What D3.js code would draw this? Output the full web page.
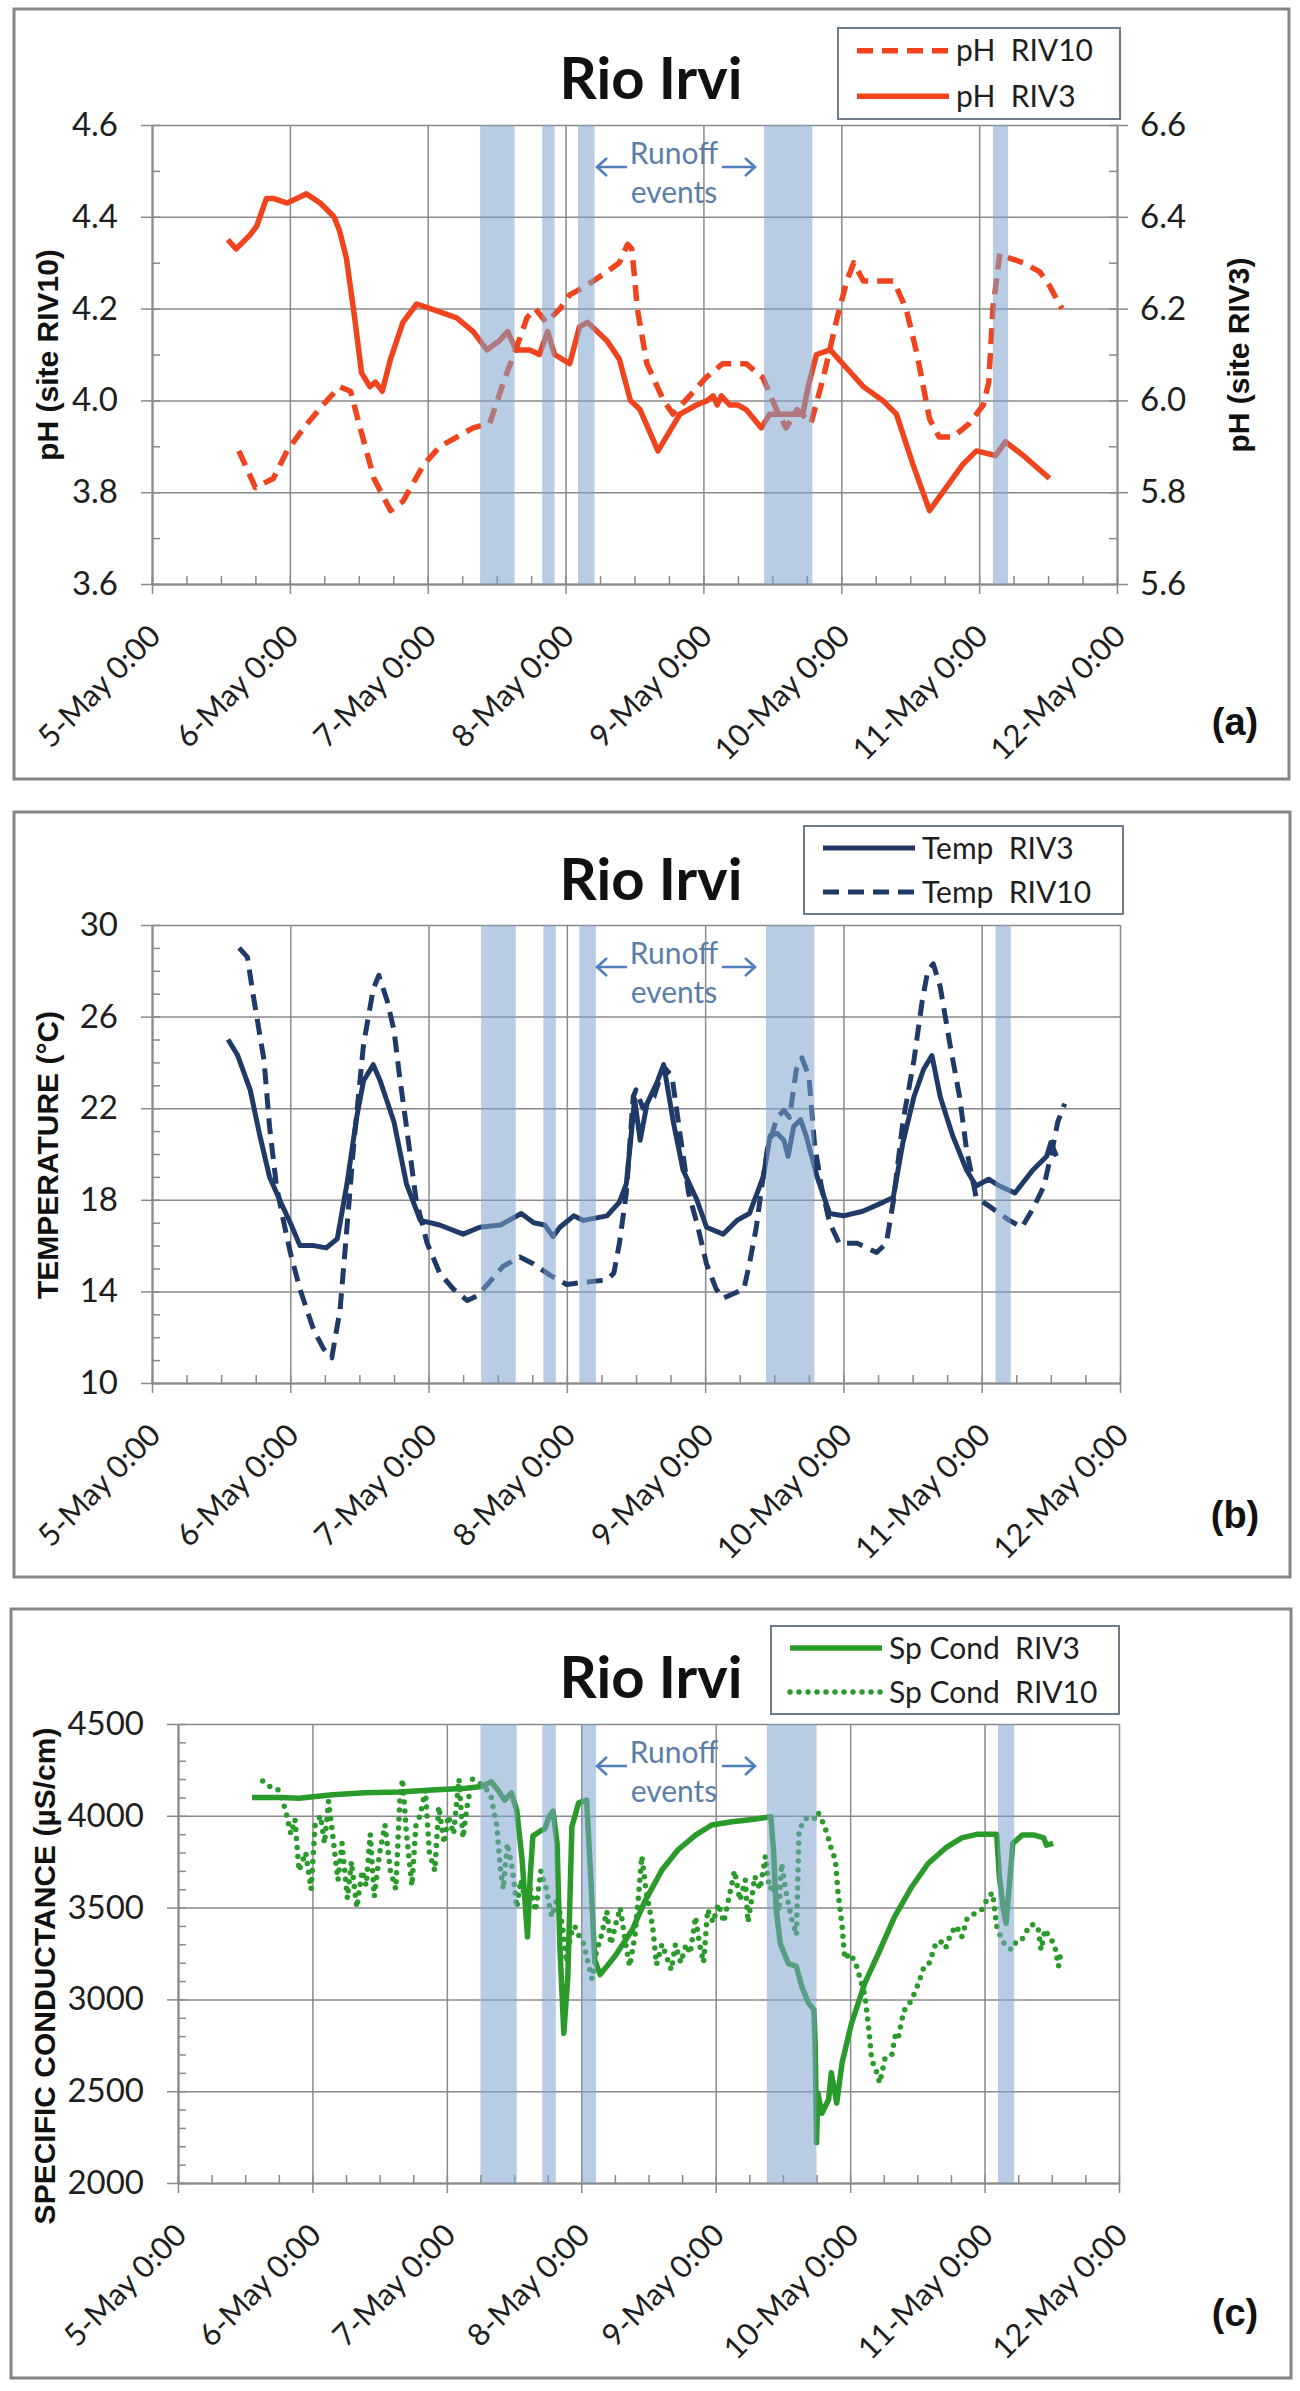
<!DOCTYPE html>
<html>
<head>
<meta charset="utf-8">
<script src="https://cdn.jsdelivr.net/npm/d3@7"></script>
<style>
  body { margin: 0; background: #fff; }
  text { font-family: Lato, "Open Sans", sans-serif; }
</style>
</head>
<body>
<svg id="fig" width="1300" height="2391"></svg>
<script>
// days counted from 5-May 0:00
var dayTicks = [0, 1, 2, 3, 4, 5, 6, 7];
var dayLabels = ['5-May 0:00', '6-May 0:00', '7-May 0:00', '8-May 0:00',
  '9-May 0:00', '10-May 0:00', '11-May 0:00', '12-May 0:00'];

// runoff event bands [start, end] in days
var bandsAB = [[2.38, 2.63], [2.83, 2.92], [3.09, 3.21], [4.44, 4.79], [6.10, 6.21]];
var bandsC = [[2.25, 2.52], [2.71, 2.81], [3.00, 3.11], [4.38, 4.75], [6.10, 6.22]];

var phTicks = [3.6, 3.8, 4.0, 4.2, 4.4, 4.6];
var phRightTicks = [5.6, 5.8, 6.0, 6.2, 6.4, 6.6];
var tempTicks = [10, 14, 18, 22, 26, 30];
var condTicks = [2000, 2500, 3000, 3500, 4000, 4500];

var phRIV10 = [[0.63,3.89],[0.75,3.81],[0.88,3.83],[0.98,3.89],[1.10,3.94],[1.24,3.99],[1.36,4.03],
  [1.44,4.02],[1.51,3.94],[1.61,3.83],[1.73,3.76],[1.82,3.78],[1.97,3.86],[2.09,3.90],[2.33,3.94],
  [2.45,3.95],[2.55,4.04],[2.65,4.12],[2.72,4.18],[2.78,4.20],[2.86,4.17],[2.96,4.20],[3.03,4.23],
  [3.15,4.25],[3.30,4.28],[3.39,4.30],[3.45,4.34],[3.48,4.33],[3.50,4.27],[3.52,4.20],[3.59,4.08],
  [3.71,4.00],[3.78,3.97],[3.90,4.01],[4.02,4.05],[4.14,4.08],[4.31,4.08],[4.43,4.05],[4.53,3.98],
  [4.60,3.94],[4.68,3.98],[4.78,3.95],[4.87,4.05],[4.97,4.18],[5.04,4.26],[5.09,4.30],[5.16,4.26],
  [5.26,4.26],[5.38,4.26],[5.47,4.20],[5.55,4.10],[5.64,3.96],[5.71,3.92],[5.81,3.92],[5.93,3.95],
  [6.03,3.99],[6.07,4.04],[6.10,4.20],[6.15,4.32],[6.22,4.31],[6.32,4.30],[6.44,4.28],[6.51,4.25],
  [6.60,4.20]];

var phRIV3 = [[0.55,6.35],[0.61,6.33],[0.71,6.36],[0.76,6.38],[0.83,6.44],[0.88,6.44],[0.98,6.43],
  [1.05,6.44],[1.12,6.45],[1.22,6.43],[1.32,6.40],[1.36,6.37],[1.41,6.31],[1.47,6.18],[1.52,6.06],
  [1.58,6.03],[1.62,6.04],[1.67,6.02],[1.73,6.09],[1.82,6.17],[1.92,6.21],[2.02,6.20],[2.21,6.18],
  [2.33,6.15],[2.43,6.11],[2.52,6.13],[2.58,6.15],[2.64,6.11],[2.74,6.11],[2.81,6.10],[2.87,6.15],
  [2.92,6.10],[3.03,6.08],[3.10,6.16],[3.16,6.17],[3.30,6.13],[3.39,6.09],[3.47,6.00],[3.54,5.98],
  [3.67,5.89],[3.73,5.92],[3.83,5.97],[3.95,5.99],[4.03,6.00],[4.07,6.01],[4.10,5.99],[4.13,6.01],
  [4.19,5.99],[4.25,5.99],[4.31,5.98],[4.42,5.94],[4.48,5.97],[4.60,5.97],[4.72,5.97],[4.76,6.03],
  [4.82,6.10],[4.92,6.11],[5.04,6.07],[5.16,6.03],[5.30,6.00],[5.40,5.97],[5.52,5.86],[5.64,5.76],
  [5.76,5.81],[5.88,5.86],[5.98,5.89],[6.12,5.88],[6.19,5.91],[6.32,5.88],[6.51,5.83]];

var tempRIV3 = [[0.55,25.0],[0.62,24.3],[0.71,22.8],[0.78,20.8],[0.85,19.0],[0.93,17.9],[1.00,17.0],
  [1.07,16.0],[1.17,16.0],[1.26,15.9],[1.34,16.3],[1.41,18.7],[1.48,21.6],[1.53,23.2],[1.60,23.9],
  [1.65,23.2],[1.75,21.4],[1.84,18.7],[1.94,17.1],[2.08,16.9],[2.25,16.5],[2.37,16.8],[2.52,16.9],
  [2.67,17.4],[2.76,17.0],[2.84,16.9],[2.90,16.4],[2.95,16.8],[3.05,17.3],[3.12,17.1],[3.29,17.3],
  [3.38,17.9],[3.43,18.7],[3.46,20.5],[3.49,22.4],[3.53,20.6],[3.58,22.2],[3.65,23.1],[3.70,23.9],
  [3.77,21.4],[3.84,19.3],[3.94,18.0],[4.01,16.8],[4.13,16.5],[4.23,17.1],[4.32,17.4],[4.42,19.0],
  [4.47,20.8],[4.52,20.9],[4.57,20.6],[4.60,19.9],[4.64,21.2],[4.69,21.5],[4.73,20.8],[4.81,19.0],
  [4.90,17.4],[5.00,17.3],[5.14,17.5],[5.29,17.9],[5.36,18.1],[5.43,20.5],[5.51,22.5],[5.58,23.7],
  [5.64,24.3],[5.70,22.5],[5.79,20.8],[5.89,19.3],[5.96,18.6],[6.05,18.9],[6.13,18.6],[6.24,18.3],
  [6.37,19.3],[6.47,19.9],[6.50,20.5],[6.54,19.9]];

var tempRIV10 = [[0.63,29.0],[0.69,28.6],[0.73,27.0],[0.81,24.1],[0.85,21.2],[0.90,18.6],[0.95,17.1],
  [1.00,15.7],[1.07,14.1],[1.17,12.3],[1.24,11.5],[1.30,11.1],[1.36,13.2],[1.41,16.8],[1.46,20.5],
  [1.53,24.8],[1.60,27.2],[1.64,27.8],[1.70,26.7],[1.75,25.4],[1.79,23.4],[1.84,21.2],[1.91,18.0],
  [1.99,16.1],[2.08,14.8],[2.18,14.1],[2.28,13.6],[2.35,13.8],[2.44,14.4],[2.54,15.1],[2.66,15.5],
  [2.76,15.2],[2.88,14.7],[3.00,14.3],[3.12,14.4],[3.29,14.5],[3.34,14.8],[3.38,16.1],[3.43,18.3],
  [3.48,22.5],[3.50,22.8],[3.55,22.0],[3.63,22.5],[3.70,23.8],[3.76,23.4],[3.82,20.8],[3.88,18.3],
  [3.94,17.0],[4.01,15.2],[4.08,14.1],[4.13,13.7],[4.28,14.1],[4.32,15.2],[4.37,16.8],[4.41,18.6],
  [4.45,20.2],[4.52,21.6],[4.57,21.9],[4.61,21.6],[4.66,23.7],[4.70,24.2],[4.75,23.4],[4.79,20.5],
  [4.84,18.6],[4.90,17.0],[4.97,16.1],[5.10,16.1],[5.24,15.7],[5.31,16.1],[5.36,17.9],[5.43,21.4],
  [5.51,24.1],[5.57,26.7],[5.61,28.0],[5.65,28.3],[5.70,27.3],[5.77,24.8],[5.84,22.5],[5.89,20.2],
  [5.96,18.1],[6.06,17.7],[6.20,17.1],[6.29,16.8],[6.37,17.6],[6.45,18.6],[6.51,20.2],[6.55,21.4],
  [6.60,22.2]];

var condRIV3 = [[0.55,4100],[0.77,4100],[0.90,4095],[1.15,4115],[1.39,4125],[1.64,4130],[1.89,4140],
  [2.14,4150],[2.26,4160],[2.33,4185],[2.38,4140],[2.43,4085],[2.48,4125],[2.52,4030],[2.56,3760],
  [2.60,3340],[2.62,3670],[2.64,3890],[2.69,3915],[2.73,3930],[2.76,3995],[2.79,4025],[2.82,3850],
  [2.84,3300],[2.87,2815],[2.90,3125],[2.93,3940],[2.98,4070],[3.04,4085],[3.07,3670],[3.10,3215],
  [3.14,3135],[3.25,3235],[3.38,3380],[3.47,3530],[3.60,3705],[3.72,3815],[3.85,3895],[3.97,3950],
  [4.12,3968],[4.27,3980],[4.41,3995],[4.43,3815],[4.45,3490],[4.48,3305],[4.54,3195],[4.60,3180],
  [4.64,3070],[4.69,2980],[4.73,2945],[4.74,2760],[4.75,2220],[4.76,2490],[4.79,2380],[4.84,2455],
  [4.86,2600],[4.90,2435],[4.94,2655],[5.01,2870],[5.11,3090],[5.21,3250],[5.33,3450],[5.46,3615],
  [5.58,3740],[5.71,3825],[5.83,3880],[5.95,3900],[6.09,3900],[6.11,3670],[6.14,3490],[6.16,3415],
  [6.19,3670],[6.21,3850],[6.28,3895],[6.37,3895],[6.44,3880],[6.46,3840],[6.51,3850]];

var condRIV10 = [[0.63,4190],[0.70,4150],[0.75,4140],[0.80,4030],[0.84,3900],[0.87,3980],[0.90,3700],
  [0.95,3800],[0.99,3600],[1.02,3950],[1.06,4000],[1.09,3850],[1.12,4080],[1.15,3900],[1.19,3650],
  [1.22,3850],[1.26,3550],[1.29,3750],[1.33,3500],[1.37,3700],[1.40,3620],[1.43,3900],[1.46,3560],
  [1.50,3800],[1.54,3950],[1.58,3700],[1.62,3600],[1.65,4080],[1.67,4200],[1.70,3900],[1.74,3620],
  [1.77,3950],[1.80,4000],[1.84,4140],[1.87,3800],[1.91,3700],[1.94,4050],[1.98,3850],[2.01,4000],
  [2.05,3900],[2.09,4200],[2.12,3880],[2.15,4050],[2.19,4200],[2.24,4180],[2.29,4150],[2.33,4100],
  [2.37,3950],[2.40,3700],[2.42,3600],[2.45,3850],[2.49,3700],[2.52,3500],[2.55,3650],[2.58,3550],
  [2.62,3600],[2.66,3480],[2.70,3700],[2.74,3600],[2.78,3450],[2.82,3550],[2.86,3400],[2.89,3200],
  [2.92,3350],[2.95,3400],[2.98,3350],[3.02,3300],[3.05,3200],[3.08,3110],[3.11,3250],[3.15,3350],
  [3.19,3480],[3.22,3300],[3.26,3420],[3.29,3500],[3.33,3300],[3.36,3180],[3.40,3350],[3.43,3600],
  [3.45,3780],[3.48,3600],[3.53,3400],[3.56,3190],[3.60,3300],[3.64,3220],[3.67,3160],[3.70,3300],
  [3.74,3200],[3.78,3300],[3.81,3250],[3.85,3450],[3.88,3300],[3.91,3200],[3.94,3490],[3.98,3420],
  [4.02,3520],[4.06,3420],[4.10,3560],[4.14,3700],[4.18,3540],[4.22,3650],[4.24,3420],[4.27,3560],
  [4.29,3670],[4.33,3600],[4.37,3780],[4.40,3600],[4.43,3620],[4.47,3480],[4.49,3740],[4.52,3600],
  [4.56,3450],[4.60,3350],[4.62,3920],[4.66,3980],[4.69,3990],[4.73,3980],[4.76,4020],[4.80,3960],
  [4.83,3900],[4.86,3820],[4.89,3760],[4.91,3580],[4.94,3400],[4.96,3220],[5.00,3250],[5.04,3200],
  [5.08,3100],[5.11,3020],[5.14,2830],[5.16,2670],[5.19,2620],[5.22,2545],[5.26,2680],[5.31,2700],
  [5.34,2820],[5.36,2800],[5.40,2940],[5.43,2960],[5.47,3020],[5.51,3090],[5.55,3180],[5.59,3200],
  [5.63,3290],[5.67,3320],[5.71,3280],[5.75,3360],[5.79,3400],[5.83,3340],[5.87,3440],[5.93,3470],
  [5.98,3490],[6.03,3560],[6.06,3580],[6.09,3400],[6.12,3340],[6.15,3300],[6.20,3270],[6.24,3320],
  [6.28,3330],[6.30,3350],[6.33,3400],[6.37,3410],[6.40,3380],[6.42,3270],[6.45,3380],[6.48,3340],
  [6.52,3300],[6.55,3180],[6.57,3270]];

var svg = d3.select('#fig');
var gridCol = '#8a8a8a', inkCol = '#1e1e1e';
var red = '#f0441e', navy = '#1f3a66', green = '#2a9a2a';

var panels = [
  { box: [14, 9, 1289, 779], xr: [152, 1117], yr: [584, 125], dom: [3.6, 4.6],
    ticks: phTicks, minor: 0.1, fmt: d3.format('.1f'), bands: bandsAB,
    right: { dom: [5.6, 6.6], ticks: phRightTicks, label: 'pH (site RIV3)', lx: 1238 },
    ylab: 'pH (site RIV10)', lx: 47, ly: 355, titleY: 99, tag: '(a)', tagY: 722,
    legend: [838, 28, 1120, 119],
    series: [
      { name: 'pH  RIV10', data: phRIV10, col: red, w: 5.5, dash: '16,9', axis: 'left' },
      { name: 'pH  RIV3', data: phRIV3, col: red, w: 5.5, dash: null, axis: 'right' }
    ] },
  { box: [14, 812, 1290, 1577], xr: [152, 1120], yr: [1383, 925], dom: [10, 30],
    ticks: tempTicks, minor: 1, fmt: d3.format('d'), bands: bandsAB,
    ylab: 'TEMPERATURE (°C)', lx: 47, ly: 1155, titleY: 900, tag: '(b)', tagY: 1515,
    legend: [804, 826, 1123, 914],
    series: [
      { name: 'Temp  RIV3', data: tempRIV3, col: navy, w: 5, dash: null, axis: 'left' },
      { name: 'Temp  RIV10', data: tempRIV10, col: navy, w: 5, dash: '16,9', axis: 'left' }
    ] },
  { box: [11, 1609, 1291, 2378], xr: [178, 1119], yr: [2183, 1724], dom: [2000, 4500],
    ticks: condTicks, minor: 100, fmt: d3.format('d'), bands: bandsC,
    ylab: 'SPECIFIC CONDUCTANCE (µS/cm)', lx: 44, ly: 1976, titleY: 1698, tag: '(c)', tagY: 2313,
    legend: [771, 1626, 1119, 1714],
    series: [
      { name: 'Sp Cond  RIV3', data: condRIV3, col: green, w: 5.5, dash: null, axis: 'left' },
      { name: 'Sp Cond  RIV10', data: condRIV10, col: green, w: 5.5, dash: '0,9', cap: 'round', axis: 'left' }
    ] }
];

function styleAxis(a, col) {
  a.select('.domain').attr('stroke', col).attr('stroke-width', 1.5);
  a.selectAll('line').attr('stroke', col).attr('stroke-width', 1.5);
}

panels.forEach(function(p) {
  var g = svg.append('g');
  var x = d3.scaleLinear().domain([0, 7]).range(p.xr);
  var y = d3.scaleLinear().domain(p.dom).range(p.yr);
  var yR = p.right ? d3.scaleLinear().domain(p.right.dom).range(p.yr) : null;
  var pw = p.xr[1] - p.xr[0], ph = p.yr[0] - p.yr[1];

  g.append('rect')
    .attr('x', p.box[0]).attr('y', p.box[1])
    .attr('width', p.box[2] - p.box[0]).attr('height', p.box[3] - p.box[1])
    .attr('fill', '#fff').attr('stroke', '#858585').attr('stroke-width', 3);

  // grid
  var gy = g.append('g').attr('transform', 'translate(' + p.xr[0] + ',0)')
    .call(d3.axisLeft(y).tickValues(p.ticks).tickSize(-pw).tickFormat('').tickSizeOuter(0));
  styleAxis(gy, gridCol);
  var gx = g.append('g').attr('transform', 'translate(0,' + p.yr[0] + ')')
    .call(d3.axisBottom(x).tickValues(dayTicks).tickSize(-ph).tickFormat('').tickSizeOuter(0));
  styleAxis(gx, gridCol);

  // minor ticks
  var minorY = d3.range(p.dom[0], p.dom[1] + p.minor / 2, p.minor);
  var my = g.append('g').attr('transform', 'translate(' + p.xr[0] + ',0)')
    .call(d3.axisLeft(y).tickValues(minorY).tickSize(-8).tickFormat('').tickSizeOuter(0));
  styleAxis(my, gridCol);
  var mx = g.append('g').attr('transform', 'translate(0,' + p.yr[0] + ')')
    .call(d3.axisBottom(x).tickValues(d3.range(0, 7.01, 0.25)).tickSize(-8).tickFormat('').tickSizeOuter(0));
  styleAxis(mx, gridCol);

  // main axes
  var ay = g.append('g').attr('transform', 'translate(' + p.xr[0] + ',0)')
    .call(d3.axisLeft(y).tickValues(p.ticks).tickSize(11).tickPadding(23).tickFormat(p.fmt).tickSizeOuter(0));
  styleAxis(ay, gridCol);
  ay.selectAll('text').attr('font-size', 33).attr('fill', inkCol).style('font-family', 'Lato, sans-serif');

  var ax = g.append('g').attr('transform', 'translate(0,' + p.yr[0] + ')')
    .call(d3.axisBottom(x).tickValues(dayTicks).tickSize(10).tickSizeOuter(0)
      .tickFormat(function(d, i) { return dayLabels[i]; }));
  styleAxis(ax, gridCol);
  ax.selectAll('text')
    .attr('x', 0).attr('y', 0).attr('dy', 0)
    .attr('text-anchor', 'end')
    .attr('transform', 'translate(10,54) rotate(-45)')
    .attr('font-size', 31).attr('fill', inkCol).style('font-family', 'Lato, sans-serif');

  if (p.right) {
    var my2 = g.append('g').attr('transform', 'translate(' + p.xr[1] + ',0)')
      .call(d3.axisRight(yR).tickValues(d3.range(5.6, 6.65, 0.1)).tickSize(-8).tickFormat('').tickSizeOuter(0));
    styleAxis(my2, gridCol);
    var ar = g.append('g').attr('transform', 'translate(' + p.xr[1] + ',0)')
      .call(d3.axisRight(yR).tickValues(p.right.ticks).tickSize(11).tickPadding(12)
        .tickFormat(d3.format('.1f')).tickSizeOuter(0));
    styleAxis(ar, gridCol);
    ar.selectAll('text').attr('font-size', 33).attr('fill', inkCol).style('font-family', 'Lato, sans-serif');
    g.append('text')
      .attr('transform', 'translate(' + p.right.lx + ',' + p.ly + ') rotate(-90)')
      .attr('text-anchor', 'middle').attr('dominant-baseline', 'central')
      .style('font-family', '"Liberation Sans", Arial, sans-serif')
      .attr('font-weight', 'bold').attr('font-size', 30).attr('fill', '#111')
      .text(p.right.label);
  }

  // series
  p.series.forEach(function(s) {
    var ys = s.axis === 'right' ? yR : y;
    var line = d3.line().x(function(d) { return x(d[0]); }).y(function(d) { return ys(d[1]); });
    g.append('path').datum(s.data)
      .attr('d', line)
      .attr('fill', 'none')
      .attr('stroke', s.col)
      .attr('stroke-width', s.w)
      .attr('stroke-linejoin', 'round')
      .attr('stroke-linecap', s.cap || 'butt')
      .attr('stroke-dasharray', s.dash);
  });

  // runoff bands on top, semi transparent
  g.selectAll('.band').data(p.bands).enter().append('rect')
    .attr('x', function(d) { return x(d[0]); })
    .attr('width', function(d) { return x(d[1]) - x(d[0]); })
    .attr('y', p.yr[1]).attr('height', ph)
    .attr('fill', '#7ea2ce').attr('fill-opacity', 0.55);

  // runoff note
  var top = p.yr[1];
  g.append('text').attr('x', 674).attr('y', top + 39).attr('text-anchor', 'middle')
    .attr('font-size', 30).attr('fill', '#5b7ea6').text('Runoff');
  g.append('text').attr('x', 674).attr('y', top + 78).attr('text-anchor', 'middle')
    .attr('font-size', 30).attr('fill', '#5b7ea6').text('events');
  var ay0 = top + 42;
  g.append('path')
    .attr('d', 'M627,' + ay0 + 'H597M607,' + (ay0 - 9) + 'L597,' + ay0 + 'L607,' + (ay0 + 9) +
      'M722,' + ay0 + 'H755M745,' + (ay0 - 9) + 'L755,' + ay0 + 'L745,' + (ay0 + 9))
    .attr('fill', 'none').attr('stroke', '#4f7fbc').attr('stroke-width', 2.5);

  // title
  g.append('text').attr('x', 651).attr('y', p.titleY).attr('text-anchor', 'middle')
    .attr('font-size', 58).attr('font-weight', 'bold').attr('fill', '#111').text('Rio Irvi');

  // y label
  g.append('text')
    .attr('transform', 'translate(' + p.lx + ',' + p.ly + ') rotate(-90)')
    .attr('text-anchor', 'middle').attr('dominant-baseline', 'central')
    .style('font-family', '"Liberation Sans", Arial, sans-serif')
    .attr('font-weight', 'bold').attr('font-size', 30).attr('fill', '#111')
    .text(p.ylab);

  // legend
  var L = p.legend;
  g.append('rect').attr('x', L[0]).attr('y', L[1])
    .attr('width', L[2] - L[0]).attr('height', L[3] - L[1])
    .attr('fill', '#fff').attr('stroke', '#6d7b8a').attr('stroke-width', 2);
  var rowH = (L[3] - L[1]) / 2;
  p.series.forEach(function(s, i) {
    var cy = L[1] + rowH * (i + 0.5);
    g.append('line').attr('x1', L[0] + 19).attr('x2', L[0] + 111)
      .attr('y1', cy).attr('y2', cy)
      .attr('stroke', s.col).attr('stroke-width', s.w)
      .attr('stroke-linecap', s.cap || 'butt')
      .attr('stroke-dasharray', s.dash);
    g.append('text').attr('x', L[0] + 118).attr('y', cy).attr('dy', '0.35em')
      .style('white-space', 'pre')
      .attr('font-size', 30).attr('fill', inkCol).text(s.name);
  });

  // panel tag
  g.append('text').attr('x', 1235).attr('y', p.tagY).attr('dy', '0.35em')
    .attr('text-anchor', 'middle')
    .style('font-family', '"Liberation Sans", Arial, sans-serif')
    .attr('font-weight', 'bold').attr('font-size', 38).attr('fill', '#111').text(p.tag);
});
</script>
</body>
</html>
